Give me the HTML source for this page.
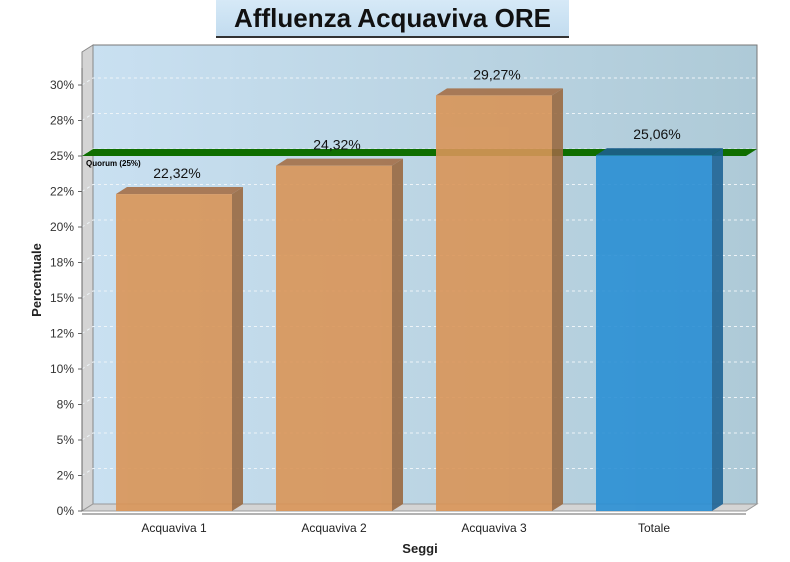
<!DOCTYPE html>
<html><head><meta charset="utf-8"><style>
body{margin:0;background:#fff;width:790px;height:562px;overflow:hidden;font-family:"Liberation Sans",sans-serif}
#title{position:absolute;left:216px;top:0;width:353px;height:36px;background:linear-gradient(#d6e9f7,#c2dcef);border-bottom:2px solid #333;text-align:center;font-weight:bold;font-size:26px;line-height:36px;color:#111}
</style></head><body>
<div id="title">Affluenza Acquaviva ORE 12</div>
<svg id="c" width="790" height="562" style="position:absolute;left:0;top:0;z-index:-0"></svg>
<script>
const categories=["Acquaviva 1","Acquaviva 2","Acquaviva 3","Totale"];
const values=[22.32,24.32,29.27,25.06];
const valueLabels=["22,32%","24,32%","29,27%","25,06%"];
const tickValues=[0,2.5,5,7.5,10,12.5,15,17.5,20,22.5,25,27.5,30];
const tickLabels=["0%","2%","5%","8%","10%","12%","15%","18%","20%","22%","25%","28%","30%"];
const quorum=25;
const NS="http://www.w3.org/2000/svg";
const svg=document.getElementById('c');
const X0=82,X1=746,DX=11,DY=-7,Y0=511,PPU=14.2;
const y=v=>Y0-v*PPU;
const xc=i=>174+i*160;
function el(t,a,p){const e=document.createElementNS(NS,t);for(const k in a)e.setAttribute(k,a[k]);(p||svg).appendChild(e);return e;}
const defs=el('defs',{});
const g=el('linearGradient',{id:'bg',x1:0,x2:1,y1:0,y2:0},defs);
el('stop',{offset:0,'stop-color':'#c9e0f1'},g);el('stop',{offset:1,'stop-color':'#aecad7'},g);
const back=el('rect',{x:X0+DX,y:45,width:X1-X0,height:Y0+DY-45,fill:'url(#bg)',stroke:'#777'});

const wall=el('polygon',{points:`${X0},${Y0} ${X0+DX},${Y0+DY} ${X0+DX},45 ${X0},52`,fill:'#d4d4d4',stroke:'#888'});

const floor=el('polygon',{points:`${X0},${Y0} ${X0+DX},${Y0+DY} ${X1+DX},${Y0+DY} ${X1},${Y0}`,fill:'#d4d4d4',stroke:'#999'});

tickValues.forEach((v,i)=>{
 const yy=y(v);
 if(v>0){const gl=el('polyline',{points:`${X0},${yy} ${X0+DX},${yy+DY} ${X1+DX},${yy+DY}`,fill:'none',stroke:'#eef4f8','stroke-dasharray':'3,3'});
 }
 const t=el('text',{x:74,y:yy+4,'text-anchor':'end','font-size':12,fill:'#333'});t.textContent=tickLabels[i];
 
 el('line',{x1:X0-4,x2:X0,y1:yy,y2:yy,stroke:'#666'});
});
el('line',{x1:X0,x2:X0,y1:68,y2:Y0,stroke:'#666'});
el('line',{x1:X0,x2:X1,y1:Y0+3,y2:Y0+3,stroke:'#666'});
// quorum band
const qy=y(quorum);
const qb=el('polygon',{points:`${X0},${qy} ${X0+DX},${qy+DY} ${X1+DX},${qy+DY} ${X1},${qy}`,fill:'#0f6e00'});

const ql=el('text',{x:86,y:qy+10,'font-size':8,'font-weight':'bold',fill:'#000'});ql.textContent='Quorum (25%)';

values.forEach((v,i)=>{
 const cx=xc(i),w=116,l=cx-w/2,top=y(v);
 const tot=i===3;
 const face=tot?'#2a8fd4':'#d99558',side=tot?'#1f6496':'#9a6a42',tp=tot?'#1d5f8e':'#a57048';
 const bar=el('g',{opacity:0.9});
 
 el('polygon',{points:`${l+w},${Y0} ${l+w+DX},${Y0+DY} ${l+w+DX},${top+DY} ${l+w},${top}`,fill:side},bar);
 el('polygon',{points:`${l},${top} ${l+DX},${top+DY} ${l+w+DX},${top+DY} ${l+w},${top}`,fill:tp},bar);
 el('rect',{x:l,y:top,width:w,height:Y0-top,fill:face},bar);
 const vl=el('text',{x:cx+3,y:top-16,'text-anchor':'middle','font-size':14,fill:'#111'});vl.textContent=valueLabels[i];
 
 const cl=el('text',{x:cx,y:532,'text-anchor':'middle','font-size':12,fill:'#222'});cl.textContent=categories[i];
 
});
const xt=el('text',{x:420,y:553,'text-anchor':'middle','font-size':13,'font-weight':'bold',fill:'#222'});xt.textContent='Seggi';

const yt=el('text',{x:0,y:0,transform:'translate(41,280) rotate(-90)','text-anchor':'middle','font-size':13,'font-weight':'bold',fill:'#222'});yt.textContent='Percentuale';

</script>
</body></html>
